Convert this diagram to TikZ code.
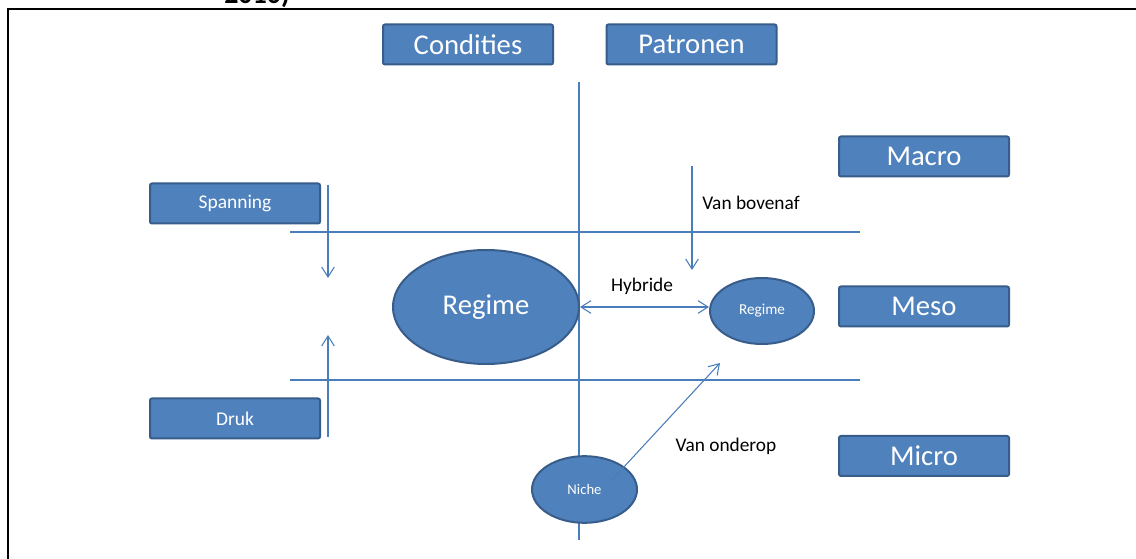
\documentclass[tikz,border=0pt]{standalone}
\usepackage{fontspec}
\setmainfont{Carlito}
\usetikzlibrary{arrows.meta,shapes.geometric}
\definecolor{boxfill}{HTML}{4F81BD}
\definecolor{boxedge}{HTML}{385D8A}
\definecolor{linkblue}{HTML}{4A7EBB}
\tikzset{
  levelbox/.style={draw=boxedge, line width=1.5pt, fill=boxfill, rounded corners=1.5pt,
    text=white, minimum width=127.5pt, minimum height=30pt, inner sep=0pt,
    font=\fontsize{21.5}{24}\selectfont},
  forcebox/.style={levelbox, font=\fontsize{14.6}{17}\selectfont},
  bigoval/.style={ellipse, draw=boxedge, line width=1.5pt, fill=boxfill, text=white, inner sep=0pt},
  thinline/.style={draw=linkblue, line width=0.8pt},
  arrowline/.style={thinline, -{Straight Barb[length=7.5pt,width=9.5pt]}},
  label/.style={font=\fontsize{14.5}{17}\selectfont, text=black, inner sep=0pt},
}
\begin{document}
\begin{tikzpicture}[x=0.75pt, y=-0.75pt]
  \useasboundingbox (0,0) rectangle (1136,559);
  \clip (0,0) rectangle (1136,559);
  \fill[white] (0,0) rectangle (1136,559);

  % caption text running above the frame
  \node[anchor=base, font=\bfseries\fontsize{21}{24}\selectfont, inner sep=0pt] (year) at (257,4) {2010)};

  % frame
  \draw[black, line width=1.5pt] (8,559) -- (8,9.5) -- (1136,9.5);

  % axes
  \coordinate (vtop) at (579,82);
  \coordinate (vbot) at (579,540);
  \coordinate (h1l) at (290,232);
  \coordinate (h1r) at (860,232);
  \coordinate (h2l) at (290,380);
  \coordinate (h2r) at (860,380);
  \draw[thinline] (vtop) -- (vbot);
  \draw[thinline] (h1l) -- (h1r);
  \draw[thinline] (h2l) -- (h2r);

  % column and level headers
  \node[levelbox] (condities) at (468,44.5) {Condities};
  \node[levelbox] (patronen) at (691.5,44.5) {Patronen};
  \node[levelbox] (macro) at (924,156.5) {Macro};
  \node[levelbox] (meso) at (924,306.5) {Meso};
  \node[levelbox] (micro) at (924,456) {Micro};
  \node[forcebox] (spanning) at (235,203.5) {Spanning};
  \node[forcebox] (druk) at (235,418.5) {Druk};

  % regimes and niche
  \node[bigoval, minimum width=139.5pt, minimum height=85.5pt, font=\fontsize{21.5}{24}\selectfont] (regime) at (486,307) {Regime};
  \node[bigoval, minimum width=78pt, minimum height=49.5pt, font=\fontsize{11.4}{13}\selectfont] (regime2) at (762,311) {Regime};
  \node[bigoval, minimum width=78.75pt, minimum height=50pt, font=\fontsize{11}{13}\selectfont] (niche) at (584.5,489.5) {Niche};

  % vertical pressure arrows
  \coordinate (spTop) at (328,185);
  \coordinate (spTip) at (328,278);
  \coordinate (drBot) at (328,437);
  \coordinate (drTip) at (328,335);
  \coordinate (vbTop) at (692,166);
  \coordinate (vbTip) at (692,270);
  \draw[arrowline] (spTop) -- (spTip);
  \draw[arrowline] (drBot) -- (drTip);
  \draw[arrowline] (vbTop) -- (vbTip);

  % hybrid route
  \draw[thinline, {Straight Barb[length=7.5pt,width=9.5pt]}-{Straight Barb[length=7.5pt,width=9.5pt]}]
    (regime.east) -- (regime.east -| regime2.west);

  % bottom-up route from the niche
  \coordinate (niStart) at (610,482);
  \coordinate (niTip) at (720,363);
  \draw[arrowline] (niStart) -- (niTip);

  % route labels
  \node[label] (hybride) at (642,286) {Hybride};
  \node[label] (bovenaf) at (751,203) {Van bovenaf};
  \node[label] (onderop) at (726,446) {Van onderop};
\end{tikzpicture}
\end{document}
